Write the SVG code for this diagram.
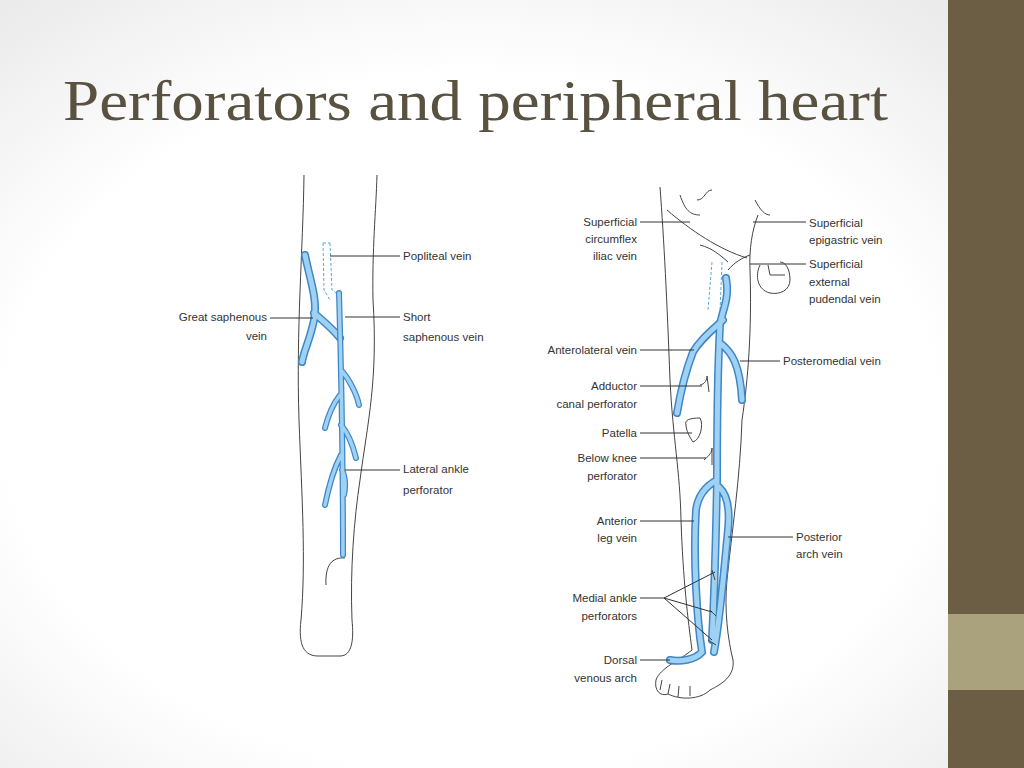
<svg xmlns="http://www.w3.org/2000/svg" width="1024" height="768" viewBox="0 0 1024 768">
<defs>
<radialGradient id="bg" cx="0.46" cy="0.55" r="0.7"><stop offset="0.65" stop-color="#ffffff"/><stop offset="1" stop-color="#ebebeb"/></radialGradient>
<style>
.o{fill:none;stroke:#444;stroke-width:1}
.vd{fill:none;stroke:#3f86c6;stroke-linecap:round}
.vl{fill:none;stroke:#9fd2f2;stroke-linecap:round}
.l{stroke:#333;stroke-width:1}
.t{font-family:"Liberation Sans",Arial,sans-serif;font-size:11.5px;fill:#333}
.r{text-anchor:end}
.d{fill:none;stroke:#5aa7da;stroke-dasharray:3 2;stroke-width:1}
</style>
</defs>
<rect width="1024" height="768" fill="url(#bg)"/>
<rect x="948" y="0" width="76" height="768" fill="#6b5e45"/>
<rect x="948" y="614" width="76" height="76" fill="#a9a27c"/>
<text x="63" y="120" font-family="Liberation Serif,serif" font-size="58" fill="#5a5240" textLength="825" lengthAdjust="spacingAndGlyphs">Perforators and peripheral heart</text>

<g id="left-leg">
<path class="o" d="M304,175 C303,250 296,330 299,420 C302,500 306,560 301,620 C298,645 304,656 318,656 L340,656 C352,656 354,640 352,620 C350,570 354,520 360,480 C368,420 378,380 373,300 C372,250 376,210 377,175"/>
<path class="o" d="M326,585 C325,565 332,557 345,558"/>
<path class="d" d="M323,243 L324,290 L330,300 M330,243 L332,290 L340,296 M323,243 L330,243"/>
<g id="gsv-left">
<path class="vd" stroke-width="8" d="M305,255 C310,280 318,300 314,320 C310,340 304,350 302,362 M314,313 C322,320 332,328 340,338"/>
<path class="vl" stroke-width="5" d="M305,255 C310,280 318,300 314,320 C310,340 304,350 302,362 M314,313 C322,320 332,328 340,338"/>
</g>
<g id="ssv">
<path class="vd" stroke-width="6" d="M339,293 C341,360 343,450 343,555 M341,370 C350,380 357,395 359,405 M340,395 C332,405 327,420 325,428 M341,425 C350,435 354,450 356,458 M341,455 C333,470 328,490 325,505 M342,470 C347,480 345,490 344,495"/>
<path class="vl" stroke-width="3.5" d="M339,293 C341,360 343,450 343,555 M341,370 C350,380 357,395 359,405 M340,395 C332,405 327,420 325,428 M341,425 C350,435 354,450 356,458 M341,455 C333,470 328,490 325,505 M342,470 C347,480 345,490 344,495"/>
</g>
</g>

<g id="right-leg">
<path class="o" d="M660,187 C664,240 667,300 670,380 C673,440 680,470 681,520 C683,580 688,620 692,650 C680,660 660,668 656,680 C654,690 660,697 668,694 C680,700 700,700 710,690 C722,684 735,676 733,660 C728,640 724,610 727,580 C732,530 740,480 742,420 C748,380 752,330 750,270 C749,250 752,230 758,215"/>
<path class="o" d="M667,210 C690,230 720,250 747,258 M700,245 C712,248 720,255 728,262 M728,270 C735,262 742,258 750,255"/>
<path class="o" d="M680,195 C685,210 690,215 700,215 M697,200 C705,200 705,190 712,190 M755,200 C760,210 765,215 770,215"/>
<path class="o" d="M760,265 C755,275 757,290 770,293 C780,295 790,290 790,280 C790,268 785,262 780,262 M768,265 L770,275 L785,275"/>
<path class="o" d="M686,425 C684,420 690,418 700,418 C704,425 700,440 693,442 C690,438 686,430 686,425 Z"/>
<path class="o" d="M660,690 L662,680 M668,694 L670,684 M678,697 L679,686 M690,696 L690,686"/>
<path class="d" d="M712,262 L708,310 M722,262 L720,312"/>
<g id="gsv-right">
<path class="vd" stroke-width="8" d="M726,278 C730,300 722,310 720,325 C717,380 717,440 717,480 C716,540 714,600 712,640 M723,320 C710,332 700,340 693,352 C686,370 680,395 677,413 M720,343 C732,352 740,365 742,400 M717,480 C706,486 698,495 696,510 C693,560 697,620 702,652 C695,660 680,662 670,660 M719,487 C728,495 730,510 728,530 C724,570 720,620 714,652"/>
<path class="vl" stroke-width="5" d="M726,278 C730,300 722,310 720,325 C717,380 717,440 717,480 C716,540 714,600 712,640 M723,320 C710,332 700,340 693,352 C686,370 680,395 677,413 M720,343 C732,352 740,365 742,400 M717,480 C706,486 698,495 696,510 C693,560 697,620 702,652 C695,660 680,662 670,660 M719,487 C728,495 730,510 728,530 C724,570 720,620 714,652"/>
</g>
<path class="o" d="M700,385 C705,384 707,380 707,376 M707,376 L709,392 M704,460 C710,455 712,452 712,448 M712,448 L712,465 M712,570 L715,580 M710,610 L716,616 M708,640 L716,645"/>
</g>

<g id="connectors">
<line class="l" x1="330" y1="256" x2="400" y2="256"/>
<line class="l" x1="270" y1="318" x2="313" y2="318"/>
<line class="l" x1="345" y1="317" x2="400" y2="317"/>
<line class="l" x1="345" y1="470" x2="400" y2="470"/>
<line class="l" x1="640" y1="222" x2="690" y2="222"/>
<line class="l" x1="753" y1="222" x2="806" y2="222"/>
<line class="l" x1="750" y1="264" x2="806" y2="264"/>
<line class="l" x1="640" y1="350" x2="694" y2="350"/>
<line class="l" x1="740" y1="361" x2="780" y2="361"/>
<line class="l" x1="640" y1="386" x2="702" y2="386"/>
<line class="l" x1="640" y1="433" x2="692" y2="433"/>
<line class="l" x1="640" y1="458" x2="706" y2="458"/>
<line class="l" x1="640" y1="521" x2="694" y2="521"/>
<line class="l" x1="728" y1="537" x2="793" y2="537"/>
<path class="l" fill="none" d="M640,598 L664,598 L715,572 M664,598 L712,612 M664,598 L712,640"/>
<line class="l" x1="640" y1="660" x2="670" y2="660"/>
</g>

<g id="labels">
<text class="t" x="403" y="260">Popliteal vein</text>
<text class="t r" x="267" y="321">Great saphenous</text>
<text class="t r" x="267" y="340">vein</text>
<text class="t" x="403" y="321">Short</text>
<text class="t" x="403" y="341">saphenous vein</text>
<text class="t" x="403" y="473">Lateral ankle</text>
<text class="t" x="403" y="494">perforator</text>
<text class="t r" x="637" y="226">Superficial</text>
<text class="t r" x="637" y="243">circumflex</text>
<text class="t r" x="637" y="260">iliac vein</text>
<text class="t" x="809" y="227">Superficial</text>
<text class="t" x="809" y="244">epigastric vein</text>
<text class="t" x="809" y="268">Superficial</text>
<text class="t" x="809" y="286">external</text>
<text class="t" x="809" y="303">pudendal vein</text>
<text class="t r" x="637" y="354">Anterolateral vein</text>
<text class="t" x="783" y="365">Posteromedial vein</text>
<text class="t r" x="637" y="390">Adductor</text>
<text class="t r" x="637" y="408">canal perforator</text>
<text class="t r" x="637" y="437">Patella</text>
<text class="t r" x="637" y="462">Below knee</text>
<text class="t r" x="637" y="480">perforator</text>
<text class="t r" x="637" y="525">Anterior</text>
<text class="t r" x="637" y="542">leg vein</text>
<text class="t" x="796" y="541">Posterior</text>
<text class="t" x="796" y="558">arch vein</text>
<text class="t r" x="637" y="602">Medial ankle</text>
<text class="t r" x="637" y="620">perforators</text>
<text class="t r" x="637" y="664">Dorsal</text>
<text class="t r" x="637" y="682">venous arch</text>
</g>
</svg>
